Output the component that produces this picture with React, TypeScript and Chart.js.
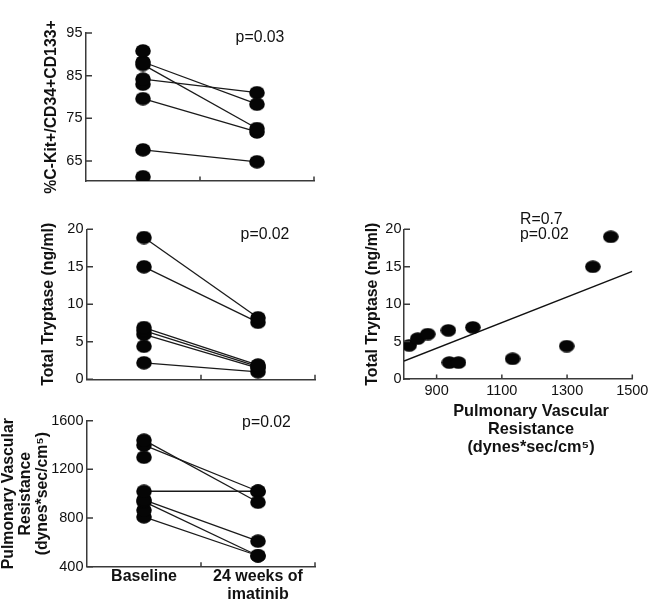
import React, { useEffect, useRef } from "react";
import { Chart, registerables } from "chart.js";

Chart.register(...registerables);

const FONT = '"Liberation Sans", Arial, Helvetica, sans-serif';
const INK = "#111111";
const AXIS = "#3a3a3a";

// ---------- data ----------
const groups: (string | string[])[] = ["Baseline", ["24 weeks of", "imatinib"]];

// %C-Kit+/CD34+CD133+ (one entry per subject; null = no 24-week value)
const kitBaseline = [90.8, 88.2, 87.6, 84.2, 83.0, 79.6, 67.6, 61.3];
const kitWeek24 = [null, 78.3, 72.6, 81.0, null, 71.8, 64.8, null];
const kitTicks = [65, 75, 85, 95];

// Total tryptase (ng/ml)
const tryBaseline = [18.9, 15.0, 6.9, 6.5, 6.0, 4.4, 2.2];
const tryWeek24 = [8.2, 7.6, 1.9, 1.7, 1.5, null, 1.0];
const tryTicks = [0, 5, 10, 15, 20];

// Pulmonary vascular resistance (dynes*sec/cm5)
const pvrBaseline = [1440, 1400, 1300, 1020, 950, 935, 865, 810];
const pvrWeek24 = [930, 1020, null, 1020, 610, 490, null, 490];
const pvrTicks = [400, 800, 1200, 1600];

// Correlation panel
const corrPvr = [816, 842, 873, 936, 1011, 939, 967, 1133, 1299, 1379, 1434];
const corrTryptase = [4.5, 5.4, 6.0, 6.5, 6.9, 2.2, 2.2, 2.7, 4.4, 15.0, 19.0];
const corrXTicks = [900, 1100, 1300, 1500];
const corrYTicks = [0, 5, 10, 15, 20];
const corrXRange = [800, 1500];

const pvrTitle = ["Pulmonary Vascular", "Resistance", "(dynes*sec/cm\u2075)"];

// ---------- helpers ----------
function ellipse(w: number, h: number): HTMLCanvasElement {
  const c = document.createElement("canvas");
  c.width = w;
  c.height = h;
  const g = c.getContext("2d")!;
  g.fillStyle = "#050505";
  g.beginPath();
  g.ellipse(w / 2, h / 2, w / 2 - 0.2, h / 2 - 0.2, 0, 0, Math.PI * 2);
  g.fill();
  return c;
}

function linearFit(xs: number[], ys: number[]) {
  const n = xs.length;
  const mx = xs.reduce((a, b) => a + b, 0) / n;
  const my = ys.reduce((a, b) => a + b, 0) / n;
  let sxy = 0, sxx = 0;
  for (let i = 0; i < n; i++) {
    sxy += (xs[i] - mx) * (ys[i] - my);
    sxx += (xs[i] - mx) * (xs[i] - mx);
  }
  const slope = sxy / sxx;
  return { slope, intercept: my - slope * mx };
}

const plain = (v: any) => String(v);

const decor = {
  id: "decor",
  afterDraw(chart: any, _a: any, opts: any) {
    const { ctx, chartArea: ca, scales } = chart;
    const xs = scales.x, ys = scales.y;
    ctx.save();
    ctx.strokeStyle = AXIS;
    ctx.lineWidth = 1.5;
    ctx.beginPath();
    ys.ticks.forEach((t: any) => {
      const py = ys.getPixelForValue(t.value);
      ctx.moveTo(ca.left, py);
      ctx.lineTo(ca.left + 6, py);
    });
    let xPos: number[] = [];
    if (xs.type === "category") {
      const step = xs.getPixelForValue(1) - xs.getPixelForValue(0);
      xPos = xs.ticks.map((_t: any, i: number) => xs.getPixelForValue(i) + step / 2);
    } else {
      xPos = xs.ticks.map((t: any) => xs.getPixelForValue(t.value));
    }
    xPos.forEach((px) => {
      ctx.moveTo(px, ca.bottom);
      ctx.lineTo(px, ca.bottom - 4.5);
    });
    ctx.stroke();
    (opts.texts || []).forEach((t: any) => {
      ctx.font = `${t.bold ? "bold " : ""}${t.size || 15.8}px ${FONT}`;
      ctx.fillStyle = INK;
      ctx.textAlign = t.align || "center";
      ctx.textBaseline = "middle";
      ctx.fillText(t.text, ca.left + t.dx, ca.top + t.dy);
    });
    ctx.restore();
  },
};

function yScale(min: number, max: number, ticks: number[], width: number, title: any, titlePad: number, lineHeight = 1.2, tickPad = 3.5) {
  return {
    type: "linear",
    min,
    max,
    afterBuildTicks: (s: any) => {
      s.ticks = ticks.map((v) => ({ value: v }));
    },
    afterFit: (s: any) => {
      s.width = width;
    },
    grid: { display: false, drawTicks: false },
    border: { display: true, color: AXIS, width: 1.5 },
    ticks: { color: INK, font: { family: FONT, size: 14.5 }, padding: tickPad, callback: plain },
    title: {
      display: true,
      text: title,
      color: INK,
      font: { family: FONT, size: 15.8, weight: "bold", lineHeight },
      padding: { top: titlePad, bottom: 0 },
    },
  };
}

function catX(height: number, showLabels: boolean) {
  return {
    type: "category",
    offset: true,
    afterFit: (s: any) => {
      s.height = height;
    },
    grid: { display: false, drawTicks: false },
    border: { display: true, color: AXIS, width: 1.5 },
    ticks: {
      display: showLabels,
      color: INK,
      font: { family: FONT, size: 16, weight: "bold", lineHeight: 1.08 },
      padding: 1.5,
      maxRotation: 0,
      autoSkip: false,
    },
  };
}

function paired(base: (number | null)[], wk: (number | null)[], dot: HTMLCanvasElement) {
  return base.map((b, i) => ({
    data: [b, wk[i]],
    borderColor: "#1a1a1a",
    borderWidth: 1.3,
    pointStyle: dot,
    pointRadius: 7,
    fill: false,
    tension: 0,
  }));
}

function baseOptions(padTop: number, padRight: number, texts: any[]) {
  return {
    responsive: false,
    animation: false,
    devicePixelRatio: 1,
    events: [],
    layout: { padding: { top: padTop, right: padRight, left: 0, bottom: 0 } },
    plugins: { legend: { display: false }, tooltip: { enabled: false }, decor: { texts } },
  };
}

function makeConfig(id: string): any {
  const dot = ellipse(16, 14);
  if (id === "kit") {
    return {
      type: "line",
      data: { labels: groups, datasets: paired(kitBaseline, kitWeek24, dot) },
      options: {
        ...baseOptions(33, 16, [{ text: "p=0.03", dx: 174, dy: 5 }]),
        scales: { x: catX(19, false), y: yScale(60.3, 95, kitTicks, 86, "%C-Kit+/CD34+CD133+", 42.5) },
      },
      plugins: [decor],
    };
  }
  if (id === "try") {
    return {
      type: "line",
      data: { labels: groups, datasets: paired(tryBaseline, tryWeek24, dot) },
      options: {
        ...baseOptions(29.3, 15, [{ text: "p=0.02", dx: 178, dy: 5.7 }]),
        scales: { x: catX(20.7, false), y: yScale(0, 20, tryTicks, 87, "Total Tryptase (ng/ml)", 39.5) },
      },
      plugins: [decor],
    };
  }
  if (id === "pvr") {
    return {
      type: "line",
      data: { labels: groups, datasets: paired(pvrBaseline, pvrWeek24, dot) },
      options: {
        ...baseOptions(20.7, 15, [{ text: "p=0.02", dx: 179.5, dy: 2.3 }]),
        scales: { x: catX(38.3, true), y: yScale(400, 1600, pvrTicks, 87, pvrTitle, 0, 1.08) },
      },
      plugins: [decor],
    };
  }
  const bigDot = ellipse(16, 13);
  const fit = linearFit(corrPvr, corrTryptase);
  const fitLine = corrXRange.map((x) => ({ x, y: fit.intercept + fit.slope * x }));
  return {
    type: "scatter",
    data: {
      datasets: [
        {
          type: "line",
          data: fitLine,
          borderColor: "#111",
          borderWidth: 1.5,
          pointRadius: 0,
          fill: false,
          order: 2,
        },
        {
          data: corrPvr.map((x, i) => ({ x, y: corrTryptase[i] })),
          pointStyle: bigDot,
          pointRadius: 7,
          showLine: false,
          order: 1,
        },
      ],
    },
    options: {
      ...baseOptions(29.3, 25.7, [
        { text: "R=0.7", dx: 116, dy: -10, align: "left" },
        { text: "p=0.02", dx: 116, dy: 5.7, align: "left" },
        { text: pvrTitle[0], dx: 127, dy: 182.7, bold: true, size: 16.3 },
        { text: pvrTitle[1], dx: 127, dy: 200.4, bold: true, size: 16.3 },
        { text: pvrTitle[2], dx: 127, dy: 218.2, bold: true, size: 16.3 },
      ]),
      scales: {
        x: {
          type: "linear",
          min: corrXRange[0],
          max: corrXRange[1],
          afterBuildTicks: (s: any) => {
            s.ticks = corrXTicks.map((v) => ({ value: v }));
          },
          afterFit: (s: any) => {
            s.height = 81;
          },
          grid: { display: false, drawTicks: false },
          border: { display: true, color: AXIS, width: 1.5 },
          ticks: { color: INK, font: { family: FONT, size: 14.5 }, padding: 3, maxRotation: 0, callback: plain },
        },
        y: yScale(0, 20, corrYTicks, 74, "Total Tryptase (ng/ml)", 33.2, 1.2, 2.5),
      },
    },
    plugins: [decor],
  };
}

function Panel({ id, left, top, width, height }: { id: string; left: number; top: number; width: number; height: number }) {
  const ref = useRef<HTMLCanvasElement | null>(null);
  useEffect(() => {
    if (!ref.current) return;
    const chart = new Chart(ref.current, makeConfig(id));
    return () => chart.destroy();
  }, [id]);
  return (
    <canvas
      ref={ref}
      width={width}
      height={height}
      style={{ position: "absolute", left, top, width, height }}
    />
  );
}

export default function App() {
  return (
    <div style={{ position: "absolute", left: 0, top: 0, width: 658, height: 605, background: "#fff", overflow: "hidden" }}>
      <Panel id="kit" left={0} top={0} width={330} height={200} />
      <Panel id="try" left={0} top={200} width={330} height={200} />
      <Panel id="pvr" left={0} top={400} width={330} height={205} />
      <Panel id="corr" left={330} top={200} width={328} height={260} />
    </div>
  );
}
